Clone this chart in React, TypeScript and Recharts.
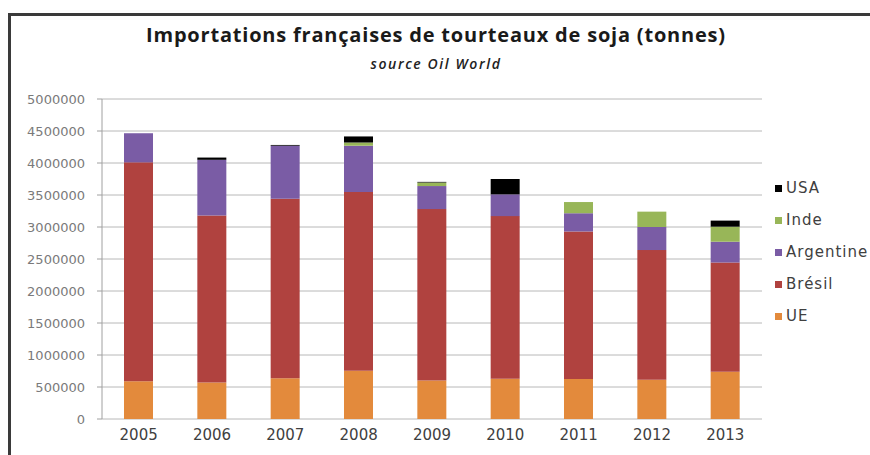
import React from 'react';
import { BarChart, Bar, XAxis, YAxis, CartesianGrid } from 'recharts';

const years = ['2005', '2006', '2007', '2008', '2009', '2010', '2011', '2012', '2013'];
const ue = [590000, 570000, 635000, 755000, 600000, 630000, 625000, 615000, 740000];
const bresil = [3420000, 2610000, 2805000, 2790000, 2680000, 2540000, 2305000, 2025000, 1705000];
const argentine = [455000, 870000, 830000, 725000, 360000, 340000, 285000, 360000, 325000];
const inde = [0, 0, 0, 50000, 55000, 0, 175000, 240000, 235000];
const usa = [0, 35000, 12000, 95000, 10000, 240000, 0, 0, 95000];
const yTicks = [0, 500000, 1000000, 1500000, 2000000, 2500000, 3000000, 3500000, 4000000, 4500000, 5000000];

const series = [
  { key: 'UE', values: ue, color: '#E38A3C' },
  { key: 'Brésil', values: bresil, color: '#B0423F' },
  { key: 'Argentine', values: argentine, color: '#7A5CA5' },
  { key: 'Inde', values: inde, color: '#98B658' },
  { key: 'USA', values: usa, color: '#000000' },
];

const data = years.map((y, i) => {
  const row: Record<string, string | number> = { year: y };
  series.forEach((s) => {
    row[s.key] = s.values[i];
  });
  return row;
});

export default function App() {
  return (
    <div
      style={{
        position: 'absolute',
        left: 0,
        top: 0,
        width: 870,
        height: 455,
        overflow: 'hidden',
        background: '#fff',
      }}
    >
      <div
        style={{
          position: 'absolute',
          left: 8,
          top: 13,
          width: 880,
          height: 460,
          border: '3px solid #3a3a3a',
          boxSizing: 'border-box',
        }}
      />
      <div
        style={{
          position: 'absolute',
          left: 0,
          top: 23,
          width: 872,
          textAlign: 'center',
          fontFamily: '"Open Sans", sans-serif',
          fontWeight: 700,
          fontSize: 20,
          letterSpacing: 0.8,
          lineHeight: '24px',
          color: '#1a1a1a',
        }}
      >
        Importations françaises de tourteaux de soja (tonnes)
      </div>
      <div
        style={{
          position: 'absolute',
          left: 0,
          top: 55,
          width: 872,
          textAlign: 'center',
          fontFamily: '"Open Sans", sans-serif',
          fontStyle: 'italic',
          fontWeight: 600,
          fontSize: 14,
          letterSpacing: 1.6,
          lineHeight: '18px',
          color: '#222',
        }}
      >
        source Oil World
      </div>
      <div style={{ position: 'absolute', left: 0, top: 0 }}>
        <BarChart
          width={870}
          height={455}
          data={data}
          margin={{ top: 99, right: 108, bottom: 6, left: 0 }}
          barCategoryGap="30%"
        >
          <CartesianGrid vertical={false} stroke="#b8b8b8" />
          <XAxis
            dataKey="year"
            axisLine={false}
            tickLine={false}
            tickSize={0}
            tickMargin={10}
            height={30}
            interval={0}
            tick={{ fill: '#404040', fontSize: 15, fontFamily: '"DejaVu Sans", sans-serif' }}
          />
          <YAxis
            domain={[0, 5000000]}
            ticks={yTicks}
            interval={0}
            width={102}
            tickSize={5}
            tickMargin={12}
            axisLine={{ stroke: '#a0a0a0' }}
            tickLine={{ stroke: '#a0a0a0' }}
            tick={{ fill: '#7a7a7a', fontSize: 13, fontFamily: '"DejaVu Sans", sans-serif' }}
          />
          {series.map((s) => (
            <Bar key={s.key} dataKey={s.key} stackId="a" fill={s.color} isAnimationActive={false} />
          ))}
        </BarChart>
      </div>
      <div
        style={{
          position: 'absolute',
          left: 775,
          top: 172,
          fontFamily: '"DejaVu Sans", sans-serif',
          fontSize: 15,
          letterSpacing: 1,
          color: '#404040',
        }}
      >
        {[...series].reverse().map((s) => (
          <div key={s.key} style={{ height: 32, display: 'flex', alignItems: 'center', whiteSpace: 'nowrap' }}>
            <span style={{ display: 'inline-block', width: 7, height: 7, background: s.color, marginRight: 4 }} />
            <span>{s.key}</span>
          </div>
        ))}
      </div>
    </div>
  );
}
